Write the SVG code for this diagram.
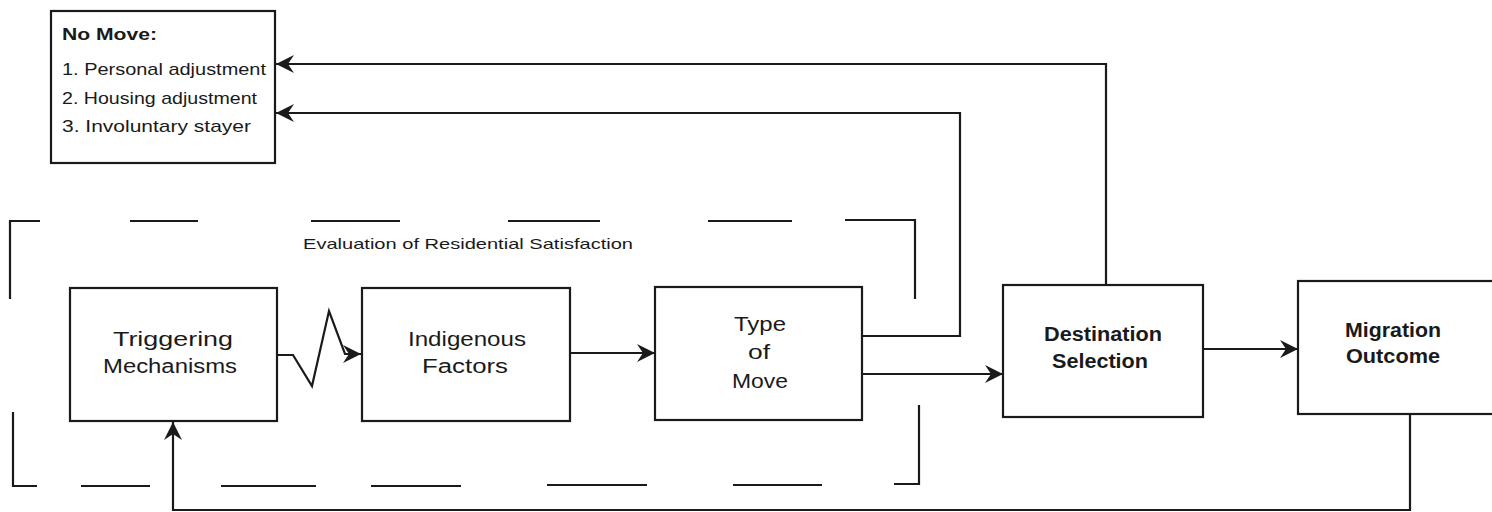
<svg xmlns="http://www.w3.org/2000/svg" width="1492" height="512" viewBox="0 0 1492 512">
<defs>
<style>
.box{fill:#fff;stroke:#1a1a1a;stroke-width:2.2}
.ln{fill:none;stroke:#1a1a1a;stroke-width:2.2}
.t{font-family:"Liberation Sans",Arial,sans-serif;fill:#1a1a1a;text-anchor:middle}
.big{font-size:20px}
.sm{font-size:17px;text-anchor:start}
</style>
<marker id="ah" viewBox="0 0 20 20" refX="18" refY="10" markerWidth="20" markerHeight="20" markerUnits="userSpaceOnUse" orient="auto">
<path d="M0,1 L18,10 L0,19 L6,10 Z" fill="#1a1a1a"/>
</marker>
</defs>
<rect width="1492" height="512" fill="#fff"/>

<g id="frame">
<path class="ln" d="M40,221 H10 V299 M130,221 H198 M311,221 H400 M508,221 H600 M708,221 H792 M845,220 H915 V299 M13,412 V486 H37 M81,486 H150 M221,486 H316 M371,486 H461 M547,485 H647 M733,485 H822 M894,484 H919 V405"/>
<text class="t" x="468" y="249" font-size="15" textLength="330" lengthAdjust="spacingAndGlyphs">Evaluation of Residential Satisfaction</text>
</g>

<g id="nomove">
<rect class="box" x="51" y="11" width="224" height="152"/>
<text class="t sm" x="62" y="40" font-weight="bold" textLength="95" lengthAdjust="spacingAndGlyphs">No Move:</text>
<text class="t sm" x="62" y="75" textLength="204" lengthAdjust="spacingAndGlyphs">1. Personal adjustment</text>
<text class="t sm" x="62" y="104" textLength="195" lengthAdjust="spacingAndGlyphs">2. Housing adjustment</text>
<text class="t sm" x="62" y="132" textLength="189" lengthAdjust="spacingAndGlyphs">3. Involuntary stayer</text>
</g>

<g id="trigger">
<rect class="box" x="70" y="288" width="207" height="133"/>
<text class="t big" x="173" y="346" textLength="120" lengthAdjust="spacingAndGlyphs">Triggering</text>
<text class="t big" x="170" y="373" textLength="134" lengthAdjust="spacingAndGlyphs">Mechanisms</text>
</g>

<g id="indigenous">
<rect class="box" x="362" y="288" width="208" height="133"/>
<text class="t big" x="467" y="346" textLength="118" lengthAdjust="spacingAndGlyphs">Indigenous</text>
<text class="t big" x="465" y="373" textLength="86" lengthAdjust="spacingAndGlyphs">Factors</text>
</g>

<g id="typemove">
<rect class="box" x="655" y="287" width="207" height="133"/>
<text class="t big" x="760" y="331" textLength="52" lengthAdjust="spacingAndGlyphs">Type</text>
<text class="t big" x="759" y="359" textLength="22" lengthAdjust="spacingAndGlyphs">of</text>
<text class="t big" x="760" y="388" textLength="56" lengthAdjust="spacingAndGlyphs">Move</text>
</g>

<g id="destination">
<rect class="box" x="1003" y="285" width="200" height="132"/>
<text class="t big" x="1103" y="341" font-weight="bold" textLength="118" lengthAdjust="spacingAndGlyphs">Destination</text>
<text class="t big" x="1100" y="368" font-weight="bold" textLength="96" lengthAdjust="spacingAndGlyphs">Selection</text>
</g>

<g id="migration">
<rect class="box" x="1298" y="281" width="200" height="133"/>
<text class="t big" x="1393" y="337" font-weight="bold" textLength="96" lengthAdjust="spacingAndGlyphs">Migration</text>
<text class="t big" x="1393" y="363" font-weight="bold" textLength="94" lengthAdjust="spacingAndGlyphs">Outcome</text>
</g>

<g id="connectors">
<path class="ln" d="M277,355 H293 L312,386 L329,311 L345,354 H361" marker-end="url(#ah)"/>
<path class="ln" d="M570,353 H655" marker-end="url(#ah)"/>
<path class="ln" d="M862,374 H1003" marker-end="url(#ah)"/>
<path class="ln" d="M862,336 H960 V113 H276" marker-end="url(#ah)"/>
<path class="ln" d="M1106,285 V64 H276" marker-end="url(#ah)"/>
<path class="ln" d="M1203,349 H1298" marker-end="url(#ah)"/>
<path class="ln" d="M1410,414 V510 H173 V422" marker-end="url(#ah)"/>
</g>
</svg>
